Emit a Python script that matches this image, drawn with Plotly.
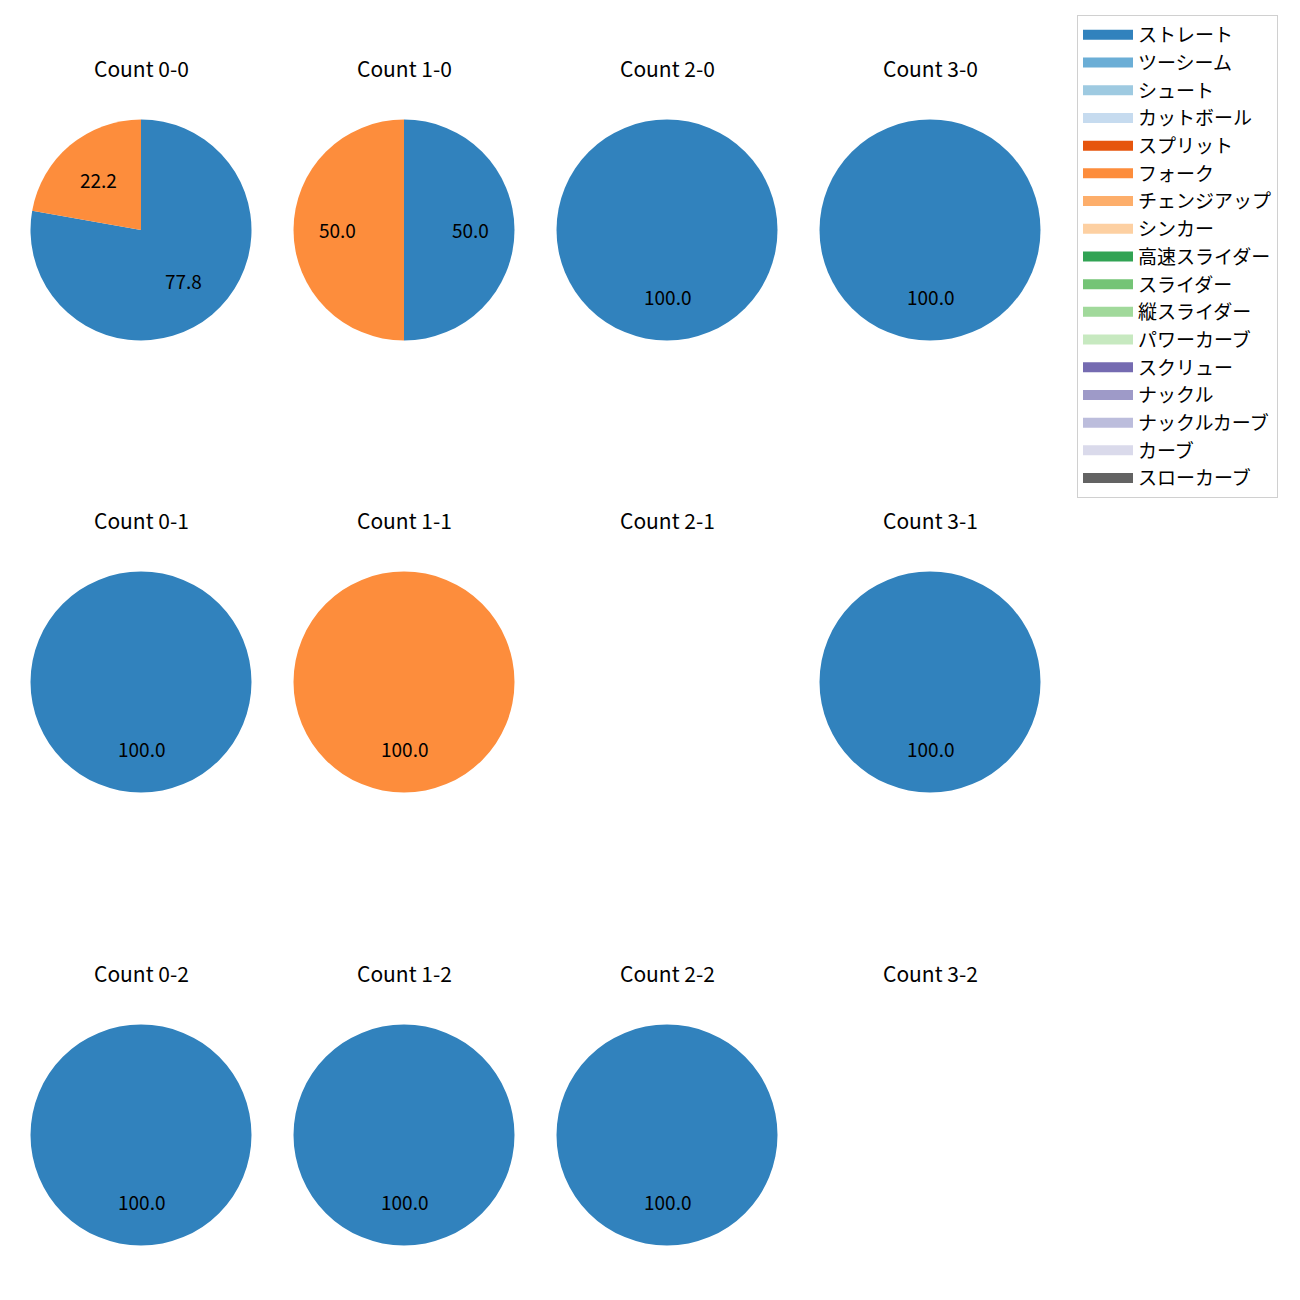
import math
import plotly.graph_objects as go

pitch_types = ["ストレート", "ツーシーム", "シュート", "カットボール", "スプリット", "フォーク",
               "チェンジアップ", "シンカー", "高速スライダー", "スライダー", "縦スライダー",
               "パワーカーブ", "スクリュー", "ナックル", "ナックルカーブ", "カーブ", "スローカーブ"]
pitch_colors = ["#3182bd", "#6baed6", "#9ecae1", "#c6dbef", "#e6550d", "#fd8d3c", "#fdae6b",
                "#fdd0a2", "#31a354", "#74c476", "#a1d99b", "#c7e9c0", "#756bb1", "#9e9ac8",
                "#bcbddc", "#dadaeb", "#636363"]

cell_titles = ["Count 0-0", "Count 1-0", "Count 2-0", "Count 3-0",
               "Count 0-1", "Count 1-1", "Count 2-1", "Count 3-1",
               "Count 0-2", "Count 1-2", "Count 2-2", "Count 3-2"]
straight_counts = [7, 1, 1, 1, 1, 0, 0, 1, 1, 1, 1, 0]
fork_counts = [2, 1, 0, 0, 0, 1, 0, 0, 0, 0, 0, 0]

OFF = 8  # page body margin
W = H = 1300 - OFF
ncols = 4
col_cx = [141, 404, 667, 930]
row_cy = [230, 682, 1135]
radius = 110.5
title_offset = 162
font_family = "Noto Sans CJK JP"


def px(x):
    return (x - OFF) / W


def py(y):
    return 1 - (y - OFF) / H


fig = go.Figure()
annotations = []
for i, title in enumerate(cell_titles):
    r_i, c_i = divmod(i, ncols)
    cx, cy = col_cx[c_i], row_cy[r_i]
    annotations.append(dict(text=title, x=px(cx), y=py(cy - title_offset),
                            xref="paper", yref="paper", showarrow=False,
                            xanchor="center", yanchor="middle",
                            font=dict(size=21, color="black", family=font_family)))
    vals = [0] * len(pitch_types)
    vals[0] = straight_counts[i]
    vals[5] = fork_counts[i]
    total = sum(vals)
    if total == 0:
        continue
    fig.add_trace(go.Pie(
        labels=pitch_types, values=vals, sort=False, direction="clockwise", rotation=0,
        marker=dict(colors=pitch_colors, line=dict(width=0)),
        textinfo="none", hoverinfo="label+percent",
        domain=dict(x=[px(cx - radius), px(cx + radius)],
                    y=[py(cy + radius), py(cy - radius)]),
        showlegend=False,
    ))
    start = 90.0
    for v in vals:
        if v <= 0:
            continue
        frac = v / total
        mid = start - frac * 360 / 2
        start -= frac * 360
        lx = cx + 0.6 * radius * math.cos(math.radians(mid))
        ly = cy - 0.6 * radius * math.sin(math.radians(mid))
        annotations.append(dict(text=f"{frac * 100:.1f}", x=px(lx), y=py(ly),
                                xref="paper", yref="paper", showarrow=False,
                                xanchor="center", yanchor="middle",
                                font=dict(size=19, color="black", family=font_family)))

# legend entries (rectangular swatches)
for name, color in zip(pitch_types, pitch_colors):
    fig.add_trace(go.Scatter(x=[None], y=[None], mode="lines", name=name,
                             line=dict(color=color, width=14), showlegend=True,
                             hoverinfo="skip"))

fig.update_layout(
    width=W, height=H,
    margin=dict(l=0, r=0, t=0, b=0),
    paper_bgcolor="white", plot_bgcolor="white",
    font=dict(family=font_family, color="black"),
    annotations=annotations,
    xaxis=dict(visible=False), yaxis=dict(visible=False),
    legend=dict(x=px(1077), y=py(15), xanchor="left", yanchor="top",
                bordercolor="#d0d0d0", borderwidth=1, bgcolor="white",
                font=dict(size=19, family=font_family, color="black"),
                itemwidth=50, traceorder="normal"),
)
fig.write_html("out.html")
